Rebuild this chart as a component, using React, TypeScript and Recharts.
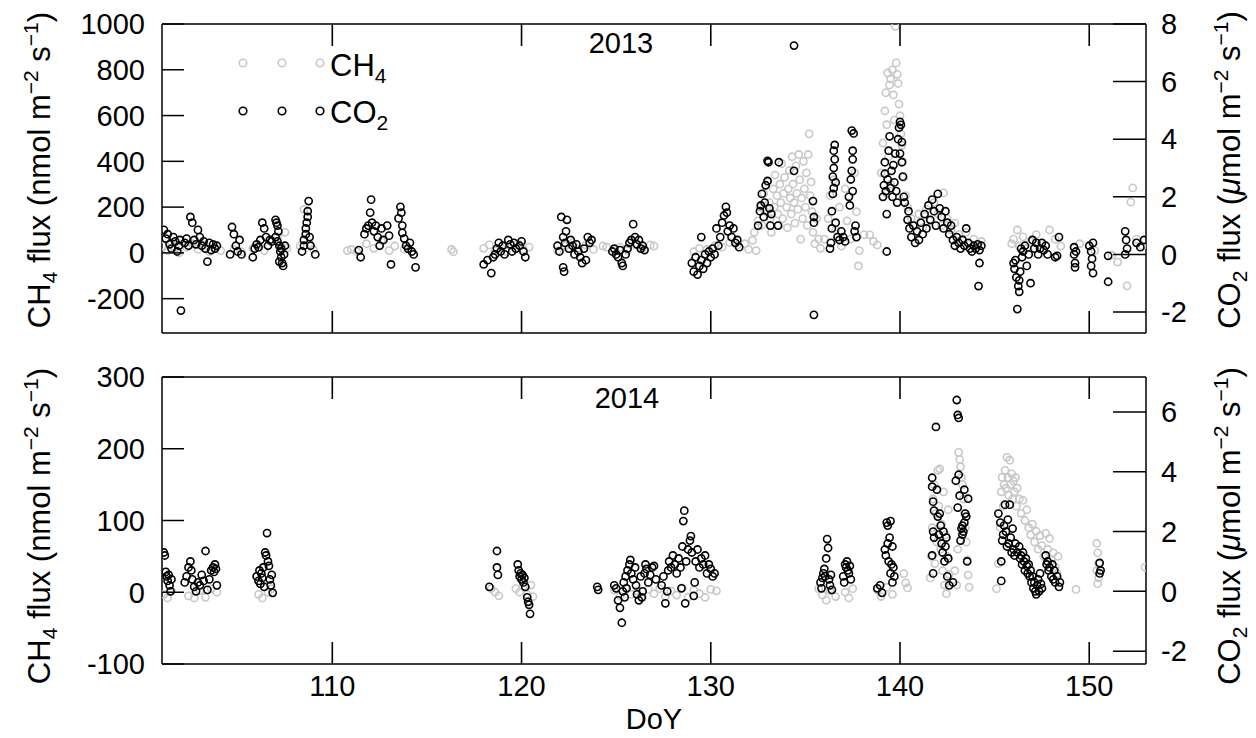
import React from 'react';
import { ScatterChart, Scatter, XAxis, YAxis, Legend } from 'recharts';

type Pt = [number, number];

const doyTicks = [110, 120, 130, 140, 150];
const ch4Ticks2013 = [-200, 0, 200, 400, 600, 800, 1000];
const co2Ticks2013 = [-2, 0, 2, 4, 6, 8];
const ch4Ticks2014 = [-100, 0, 100, 200, 300];
const co2Ticks2014 = [-2, 0, 2, 4, 6];

// [DoY, CH4 flux nmol m-2 s-1]
const ch4_2013: Pt[] = [
  [101.1, 30], [101.3, 10], [101.5, 45], [101.7, 20], [101.9, 0], [102.3, 25], [102.6, 40], [102.9, 15],
  [103.2, 35], [103.5, 5], [103.8, 20], [104.1, 10], [104.8, 15], [105.2, 5], [105.8, 20], [106.1, 35],
  [106.4, 10], [106.8, 50], [107.1, 70], [107.3, 30], [107.5, 90], [107.6, 20], [108.3, 30], [108.5, 190],
  [108.6, 80], [108.8, 40], [109.0, 15], [110.8, 10], [111.0, 15], [111.3, 5], [111.8, 40], [112.2, 20],
  [112.6, 55], [113.0, 10], [113.3, 30], [113.8, 15], [114.2, 5], [116.3, 15], [116.4, 5],
  [118.0, 20], [118.3, 35], [118.6, 10], [118.9, 25], [119.2, 5], [119.5, 30], [119.8, 40], [120.1, 15], [120.4, 25],
  [121.9, 10], [122.3, 30], [122.7, 45], [123.0, 20], [123.4, 35], [123.8, 15], [124.3, 30], [124.5, 25],
  [124.9, 15], [125.2, 25], [125.6, 10], [126.0, 35], [126.4, 20], [126.8, 35], [127.0, 30],
  [129.1, 5], [129.4, 20], [129.8, 15], [130.2, 30], [130.6, 25], [131.0, 45], [131.4, 35], [131.8, 40],
  [132.0, 15], [132.2, 55], [132.4, 10], [132.3, 90], [132.5, 140], [132.6, 200],
  [132.7, 120], [132.8, 260], [132.9, 180], [133.0, 310], [133.1, 220], [133.15, 150], [133.2, 90], [133.3, 280],
  [133.35, 200], [133.4, 340], [133.5, 250], [133.55, 170], [133.6, 120], [133.65, 300], [133.7, 220], [133.75, 390],
  [133.8, 150], [133.85, 260], [133.9, 330], [134.0, 200], [134.05, 110], [134.1, 280], [134.15, 360], [134.2, 240],
  [134.25, 170], [134.3, 420], [134.35, 300], [134.4, 220], [134.45, 130], [134.5, 380], [134.55, 260], [134.6, 190],
  [134.65, 430], [134.7, 320], [134.75, 60], [134.8, 240], [134.85, 150], [134.9, 400], [134.95, 280], [135.0, 200],
  [135.05, 350], [135.1, 120], [135.15, 430], [135.2, 520], [135.25, 250], [135.3, 310], [135.35, 180], [135.4, 90],
  [135.5, 40], [135.6, 150], [135.7, 60], [135.8, 20],
  [136.0, 60], [136.2, 150], [136.3, 250], [136.5, 320], [136.6, 100], [136.8, 200], [136.9, 30], [137.1, 280],
  [137.2, 140], [137.4, 60], [137.6, 350], [137.7, 180], [137.8, -57], [137.85, 10], [138.1, 80], [138.4, 79],
  [138.6, 50], [138.8, 35],
  [139.0, 350], [139.1, 480], [139.2, 620], [139.25, 700], [139.3, 560], [139.35, 786], [139.4, 420], [139.45, 734],
  [139.5, 760], [139.6, 800], [139.65, 690], [139.7, 580], [139.75, 990], [139.8, 830], [139.85, 780], [139.9, 740],
  [139.95, 650], [140.0, 600], [140.05, 520], [140.1, 470], [140.15, 400], [140.2, 330], [139.5, 300], [139.3, 260],
  [140.3, 250],
  [140.4, 200], [140.6, 150], [140.8, 120], [141.0, 170], [141.2, 110], [141.4, 190], [141.6, 140], [141.8, 220],
  [142.0, 170], [142.2, 120], [142.3, 262], [142.5, 150], [142.7, 100], [142.9, 130], [143.1, 80], [143.3, 60],
  [143.5, 90], [143.7, 40], [143.9, 60], [144.1, 30], [144.3, 50],
  [145.9, 40], [146.0, 60], [146.2, 100], [146.3, 30], [146.5, 70], [146.7, 20], [146.9, 50], [147.2, 80],
  [147.5, 40], [147.9, 100], [148.2, 60], [148.5, 30],
  [149.2, 20], [149.5, 40], [150.0, 30], [150.3, 10], [151.2, -10], [151.5, -40], [152.0, -144], [152.2, 222],
  [152.3, 284], [152.5, 60], [152.8, 30],
];

// [DoY, CO2 flux umol m-2 s-1]
const co2_2013: Pt[] = [
  [101.1, 0.85], [101.2, 0.55], [101.3, 0.7], [101.4, 0.35], [101.5, 0.2], [101.6, 0.6], [101.7, 0.45], [101.8, 0.1],
  [101.9, 0.3], [101.95, 0.5], [102.0, -1.95],
  [102.2, 0.4], [102.3, 0.55], [102.4, 0.3], [102.5, 1.3], [102.6, 1.1], [102.7, 0.5], [102.8, 0.35], [102.9, 0.85],
  [103.0, 0.6], [103.1, 0.3], [103.2, 0.45], [103.3, 0.2], [103.4, -0.25], [103.5, 0.4], [103.6, 0.15], [103.7, 0.35],
  [103.8, 0.2], [103.9, 0.3],
  [104.6, 0.0], [104.7, 0.95], [104.8, 0.7], [104.9, 0.3], [105.0, 0.1], [105.1, 0.5], [105.2, 0.0],
  [105.8, -0.1], [105.9, 0.2], [106.0, 0.35], [106.1, 0.25], [106.2, 0.5], [106.3, 1.1], [106.4, 0.9], [106.5, 0.6],
  [106.6, 0.3], [106.7, 0.5], [106.8, 0.45],
  [107.0, 1.2], [107.05, 1.1], [107.1, 1.0], [107.15, 0.8], [107.0, 0.6], [107.1, 0.45], [107.2, 0.3], [107.25, 0.1],
  [107.3, -0.1], [107.35, -0.3], [107.4, -0.4], [107.3, 0.2], [107.45, 0.0], [107.5, 0.3], [107.2, -0.25],
  [108.4, 0.1], [108.5, 0.3], [108.5, 0.5], [108.6, 0.7], [108.6, 0.9], [108.65, 1.1], [108.7, 1.3], [108.7, 1.5],
  [108.75, 1.85], [108.8, 0.6], [108.85, 0.3], [109.1, 0.0],
  [111.4, 0.15], [111.5, -0.1],
  [111.7, 0.7], [111.8, 0.9], [111.9, 1.0], [112.0, 1.45], [112.05, 1.9], [112.1, 1.1], [112.2, 0.8], [112.3, 1.0],
  [112.4, 0.6], [112.5, 0.3], [112.6, 0.9], [112.7, 0.5], [112.9, 1.0], [113.0, 0.65], [113.1, -0.35],
  [113.5, 1.25], [113.6, 1.65], [113.65, 1.45], [113.7, 1.0], [113.7, 0.75], [113.8, 0.55], [113.9, 0.3], [114.0, 0.2],
  [114.1, 0.4], [114.2, 0.1], [114.3, 0.0], [114.4, -0.45],
  [118.0, -0.35], [118.2, -0.2], [118.4, -0.65], [118.5, -0.1], [118.6, 0.0], [118.7, 0.2], [118.8, 0.4], [118.9, 0.1],
  [119.0, 0.3], [119.1, 0.0], [119.3, 0.5], [119.4, 0.35], [119.5, 0.1], [119.6, 0.4], [119.7, 0.2], [119.9, 0.3],
  [120.0, 0.45], [120.1, 0.1], [120.2, -0.1],
  [121.9, 0.3], [122.0, 0.1], [122.1, 1.3], [122.2, 0.6], [122.3, 0.4], [122.4, 1.2], [122.35, 0.8], [122.2, -0.45],
  [122.25, -0.6], [122.5, 0.2], [122.6, 0.5], [122.7, 0.3], [122.8, 0.0], [122.9, 0.35], [123.0, 0.1], [123.1, -0.1],
  [123.2, -0.3], [123.3, 0.2], [123.4, -0.2], [123.5, 0.6], [123.6, 0.4], [123.7, 0.5],
  [124.8, 0.1], [124.9, 0.2], [125.0, 0.0], [125.1, -0.1], [125.2, 0.15], [125.3, -0.3], [125.35, -0.4], [125.5, 0.0],
  [125.6, 0.2], [125.7, 0.4], [125.8, 0.5], [125.9, 1.05], [126.0, 0.6], [126.1, 0.35], [126.2, 0.5], [126.3, 0.2],
  [126.4, 0.3], [126.5, 0.15],
  [129.0, -0.3], [129.1, -0.6], [129.2, -0.1], [129.3, -0.7], [129.4, -0.4], [129.5, 0.6], [129.5, -0.2], [129.6, -0.5],
  [129.7, 0.0], [129.8, -0.3], [129.9, 0.1], [130.0, -0.1], [130.1, 0.2], [130.2, 0.0], [130.3, 0.9], [130.4, 0.3],
  [130.5, 0.6], [130.6, 1.1], [130.7, 1.35], [130.8, 1.65], [130.85, 1.45], [130.9, 0.8], [131.0, 1.0], [131.1, 0.6],
  [131.2, 0.9], [131.3, 0.4], [131.4, 0.5], [131.5, 0.25],
  [132.5, 1.0], [132.6, 1.5], [132.65, 1.7], [132.7, 2.1], [132.8, 1.3], [132.85, 1.8], [132.9, 2.4], [133.0, 2.55],
  [133.0, 3.25], [133.05, 3.2], [133.1, 1.6], [133.15, 1.0], [133.2, 1.4], [133.6, 3.2], [133.55, 1.0], [134.4, 2.9],
  [134.4, 7.25], [135.4, 1.85], [135.45, 1.3], [135.45, 1.1], [135.45, -2.1],
  [136.3, 0.2], [136.35, 0.4], [136.4, 0.9], [136.4, 1.5], [136.45, 2.1], [136.5, 2.3], [136.45, 2.7], [136.5, 3.0],
  [136.55, 3.3], [136.5, 3.6], [136.55, 3.8], [136.6, 2.5], [136.6, 1.1], [136.7, 0.6], [136.8, 0.5], [136.9, 0.8],
  [137.0, 0.6], [137.1, 0.45],
  [137.3, 2.0], [137.35, 1.7], [137.4, 2.6], [137.45, 2.9], [137.5, 3.3], [137.5, 3.6], [137.55, 4.2], [137.5, 2.2],
  [137.6, 0.8], [137.65, 1.0], [137.7, 0.6], [137.45, 4.3],
  [139.1, 2.0], [139.15, 2.4], [139.2, 2.8], [139.2, 3.2], [139.25, 2.2], [139.3, 1.4], [139.3, 0.1], [139.35, 2.6],
  [139.4, 3.6], [139.45, 4.1], [139.5, 2.3], [139.55, 2.9], [139.6, 2.0], [139.65, 3.1], [139.7, 2.5], [139.75, 3.5],
  [139.8, 2.2], [139.85, 1.8], [139.9, 4.0], [139.95, 4.4], [140.0, 4.6], [140.05, 4.5], [140.0, 3.5], [140.1, 3.2],
  [140.1, 3.9], [140.15, 2.7], [140.2, 2.0], [140.25, 1.8],
  [140.4, 1.2], [140.45, 1.5], [140.5, 0.9], [140.6, 0.6], [140.7, 1.0], [140.8, 0.4], [140.9, 0.8], [141.0, 0.5],
  [141.1, 1.1], [141.2, 0.7], [141.3, 1.4], [141.4, 0.9], [141.5, 1.7], [141.6, 1.2], [141.7, 1.9], [141.8, 1.5],
  [141.9, 1.0], [142.0, 2.1], [142.1, 1.6], [142.2, 1.3], [142.3, 0.9], [142.4, 1.5], [142.5, 1.1], [142.6, 0.7],
  [142.7, 1.0], [142.8, 0.5], [142.9, 0.3], [143.0, 0.6], [143.1, 0.4], [143.2, 0.2], [143.3, 0.5], [143.4, 0.3],
  [143.5, 0.9], [143.6, 0.4], [143.7, 0.2], [143.8, 0.1], [143.9, 0.3], [144.0, 0.2], [144.1, 0.35], [144.2, 0.15],
  [144.3, 0.3], [144.2, -0.3], [144.15, -1.1],
  [146.0, -0.3], [146.05, -0.5], [146.1, -0.2], [146.15, -0.8], [146.2, -1.9], [146.25, -1.1], [146.3, -1.3], [146.3, -0.9],
  [146.35, -0.6], [146.4, 0.2], [146.45, -0.1], [146.5, 0.1], [146.6, 0.3], [146.7, -0.4], [146.8, 0.0], [146.9, -1.0],
  [147.0, 0.5], [147.1, 0.2], [147.2, 0.4], [147.3, 0.0], [147.4, 0.2], [147.5, 0.4], [147.6, 0.15], [147.7, 0.3],
  [147.8, 0.0], [148.2, -0.1], [148.3, -0.05], [148.4, 0.6],
  [149.2, 0.25], [149.2, 0.0], [149.25, -0.3], [149.25, -0.45], [149.3, 0.1],
  [150.0, 0.3], [150.1, 0.1], [150.15, -0.15], [150.1, -0.4], [150.2, -0.65], [150.2, 0.4],
  [151.0, -0.05], [151.0, -0.95], [151.9, 0.8], [151.95, 0.5], [151.9, 0.0], [152.0, 0.2], [152.5, 0.4], [152.7, 0.25],
  [152.9, 0.5],
];

const ch4_2014: Pt[] = [
  [101.1, -3], [101.3, -8], [101.5, 2], [102.4, -5], [102.7, -8], [103.0, 2], [103.3, -7], [103.6, 5], [103.9, 0],
  [106.1, -3], [106.3, -8], [106.6, 0], [106.8, 5],
  [118.4, 5], [118.6, 0], [118.8, -5], [119.7, 5], [119.9, 0], [120.1, 8], [120.3, -3], [120.5, 10], [120.6, -6],
  [124.9, 3], [125.2, -5], [125.5, 6], [125.8, -3], [126.1, 2], [126.4, -7], [126.7, 4], [127.0, -2], [127.3, 5],
  [127.6, -6], [127.9, 2], [128.2, -4], [128.5, 6], [128.8, -7], [129.1, 3], [129.4, -2], [129.7, -7], [130.0, 4],
  [130.3, 2],
  [135.7, 5], [135.9, -4], [136.1, -11], [136.3, 2], [136.6, -6], [137.1, 0], [137.3, -8], [137.5, 5], [138.8, 3],
  [139.0, -6], [139.3, 7], [139.6, -3], [140.2, 26], [140.3, 13], [140.4, 6],
  [141.6, 20], [141.65, 50], [141.7, 90], [141.75, 130], [141.8, 150], [141.85, 40], [141.9, 110], [141.95, 70],
  [142.0, 170], [142.05, 120], [142.1, 172], [142.15, 60], [142.2, 95], [142.25, 30], [142.3, 140], [142.35, 10],
  [142.4, 80], [142.45, -2], [142.5, 50], [142.55, 115], [142.6, 25],
  [142.9, 30], [143.0, 10], [143.05, 60], [143.1, 195], [143.15, 185], [143.2, 175], [143.25, 160], [143.3, 150],
  [143.35, 130], [143.4, 110], [143.45, 90], [143.5, 70], [143.55, 45], [143.6, 24], [143.65, 7],
  [145.1, 5], [145.2, 40], [145.3, 90], [145.35, 140], [145.4, 160], [145.45, 120], [145.5, 150], [145.55, 170],
  [145.6, 145], [145.65, 188], [145.7, 160], [145.75, 135], [145.8, 184], [145.85, 150], [145.9, 165], [145.95, 130],
  [146.0, 155], [146.05, 140], [146.1, 160], [146.15, 120], [146.2, 145], [146.3, 130], [146.4, 110], [146.5, 128],
  [146.6, 100], [146.7, 115], [146.8, 90], [146.9, 80], [147.0, 95], [147.1, 70], [147.2, 85], [147.3, 60],
  [147.4, 79], [147.5, 65], [147.6, 50], [147.7, 82], [147.8, 60], [147.9, 75], [148.0, 45], [148.1, 55],
  [148.2, 35], [148.3, 26], [148.35, 50],
  [149.3, 4], [150.4, 68], [150.45, 55], [150.5, 40], [150.4, 30], [150.5, 20], [150.45, 12], [152.95, 35],
];

const co2_2014: Pt[] = [
  [101.1, 1.3], [101.15, 1.2], [101.2, 0.65], [101.25, 0.5], [101.3, 0.35], [101.35, 0.55], [101.4, 0.2], [101.45, 0.0],
  [101.5, 0.4],
  [102.2, 0.3], [102.3, 0.5], [102.4, 0.8], [102.5, 1.0], [102.55, 0.7], [102.6, 0.4], [102.7, 0.15], [102.8, 0.0],
  [102.9, 0.3], [103.0, 0.2], [103.1, 0.55], [103.2, 0.35], [103.3, 1.35], [103.4, 0.05], [103.5, 0.4], [103.6, 0.7],
  [103.7, 0.8], [103.75, 0.65], [103.8, 0.9], [103.85, 0.75], [103.9, 0.2],
  [106.0, 0.5], [106.1, 0.35], [106.15, 0.7], [106.2, 0.25], [106.25, 0.6], [106.3, 0.45], [106.35, 0.8], [106.4, 0.15],
  [106.45, 1.3], [106.5, 1.2], [106.55, 1.95], [106.6, 1.0], [106.65, 0.85], [106.7, 0.4], [106.75, 0.2], [106.8, 0.55],
  [106.85, -0.05],
  [118.3, 0.15], [118.7, 1.35], [118.7, 0.8], [118.75, 0.55],
  [119.8, 0.9], [119.85, 0.7], [119.9, 0.5], [119.95, 0.6], [120.0, 0.4], [120.05, 0.55], [120.1, 0.3], [120.15, 0.45],
  [120.2, 0.15], [120.3, -0.2], [120.35, -0.35], [120.4, -0.45], [120.45, -0.75],
  [124.0, 0.15], [124.05, 0.05],
  [124.9, 0.2], [125.0, 0.1], [125.1, -0.3], [125.2, -0.55], [125.3, -1.05], [125.35, 0.0], [125.4, 0.3], [125.45, -0.2],
  [125.5, 0.5], [125.55, 0.1], [125.6, 0.7], [125.7, 0.9], [125.75, 1.05], [125.8, 0.6], [125.9, 0.4], [126.0, 0.8],
  [126.05, 0.2], [126.1, -0.1], [126.2, -0.3], [126.3, 0.5], [126.35, -0.2], [126.4, 0.0], [126.5, 0.6], [126.55, 0.9],
  [126.6, 0.75], [126.7, 0.3], [126.8, 0.55], [126.9, 0.8], [127.0, 0.85], [127.1, 0.4],
  [127.4, 0.2], [127.5, 0.5], [127.6, -0.4], [127.7, 0.0], [127.75, 0.7], [127.8, 1.0], [127.9, 0.8], [128.0, 1.2],
  [128.1, 0.9], [128.2, 0.6], [128.3, 1.1], [128.4, 0.8], [128.45, 0.1], [128.5, 1.5], [128.55, 2.35], [128.6, 2.7],
  [128.65, -0.4], [128.7, 1.0], [128.8, 1.4], [128.9, 1.7], [128.95, 1.85], [129.0, 1.3], [129.1, -0.15], [129.15, 0.3],
  [129.2, 1.0], [129.3, 1.4], [129.4, 0.8], [129.5, 1.1], [129.6, 0.9], [129.7, 1.2], [129.8, 0.6], [129.9, 0.9],
  [130.0, 0.75], [130.1, 0.5], [130.2, 0.6],
  [135.8, 0.3], [135.85, 0.1], [135.9, 0.45], [135.95, 0.6], [136.0, 0.75], [136.05, 0.5], [136.1, 1.1], [136.15, 1.75],
  [136.2, 1.45], [136.25, 0.4], [136.3, 0.2], [136.35, 0.55], [136.4, 0.05],
  [137.0, 0.5], [137.05, 0.3], [137.1, 0.9], [137.15, 0.8], [137.2, 1.0], [137.25, 0.7], [137.3, 0.6], [137.35, 0.85],
  [137.4, 0.4],
  [138.8, 0.1], [138.95, 0.2], [139.05, -0.05], [139.2, 1.4], [139.25, 1.2], [139.3, 2.3], [139.35, 2.2], [139.35, 1.6],
  [139.4, 1.0], [139.45, 1.8], [139.5, 2.35], [139.5, 0.6], [139.55, 0.9], [139.6, 0.3], [139.6, 1.5], [139.65, 0.8],
  [139.7, 0.5],
  [141.7, 3.8], [141.7, 3.5], [141.75, 3.0], [141.8, 2.7], [141.75, 2.0], [141.8, 1.8], [141.7, 1.2], [141.75, 0.6],
  [141.9, 5.5], [141.95, 3.4], [142.0, 2.5], [142.05, 1.9], [142.1, 2.6], [142.15, 2.2], [142.2, 1.6], [142.25, 1.3],
  [142.3, 2.0], [142.35, 1.0], [142.4, 1.5], [142.45, 1.8], [142.5, 0.5], [142.55, 1.1], [142.6, 0.2],
  [142.8, 0.3], [142.95, 3.7], [143.0, 6.4], [143.05, 5.9], [143.1, 5.8], [143.1, 3.9], [143.15, 3.2], [143.05, 2.8],
  [143.2, 1.7], [143.25, 2.1], [143.3, 2.2], [143.3, 1.9], [143.35, 2.0], [143.4, 3.4], [143.4, 2.3], [143.45, 2.6],
  [143.5, 2.5], [143.55, 1.0], [143.6, 3.1],
  [145.2, 2.6], [145.3, 2.3], [145.35, 1.0], [145.35, 0.35], [145.4, 1.7], [145.45, 1.9], [145.5, 2.2], [145.55, 2.9],
  [145.6, 2.0], [145.65, 1.5], [145.7, 2.4], [145.75, 1.6], [145.8, 2.9], [145.85, 1.8], [145.9, 1.3], [145.95, 2.1],
  [146.0, 1.4], [146.05, 1.2], [146.1, 1.6],
  [146.2, 1.3], [146.3, 1.5], [146.35, 1.1], [146.4, 1.2], [146.45, 0.9], [146.5, 1.3], [146.55, 1.0], [146.6, 0.7],
  [146.65, 1.1], [146.7, 0.85], [146.75, 0.6], [146.8, 0.9], [146.85, 0.5], [146.9, 0.7], [146.95, 0.3], [147.0, 0.5],
  [147.05, 0.1], [147.1, 0.3], [147.15, 0.0], [147.2, -0.1], [147.25, 0.2], [147.3, 0.4], [147.35, 0.0], [147.4, 0.6],
  [147.45, 0.25], [147.5, 0.1],
  [147.7, 1.2], [147.75, 0.9], [147.8, 1.0], [147.85, 0.7], [147.9, 0.8], [148.0, 0.5], [148.05, 0.9], [148.1, 0.4],
  [148.15, 0.7], [148.2, 0.3], [148.3, 0.5], [148.4, 0.15], [148.45, 0.3],
  [150.55, 0.95], [150.6, 0.7], [150.55, 0.6],
];

const INK = '#000';
const GRAY = '#c8c8c8';
const FONT = '"Liberation Sans", Arial, Helvetica, sans-serif';
const TICK_FS = 29;
const TITLE_FS = 31;
const SUB_FS = 21;

const toRows = (pts: Pt[]) => pts.map(([doy, flux]) => ({ doy, flux }));

const ring = (color: string) => (p: any) => (
  <circle cx={p.cx} cy={p.cy} r={3.6} fill="none" stroke={color} strokeWidth={1.6} />
);

// ticks point into the plot, like R's tck > 0
const leftTick = (p: any) => (
  <g>
    <line x1={p.x + 17} x2={p.x + 39} y1={p.y} y2={p.y} stroke={INK} strokeWidth={1.5} />
    <text x={p.x} y={p.y} dy="0.355em" textAnchor="end" fontSize={TICK_FS} fill={INK}>{p.payload.value}</text>
  </g>
);

const rightTick = (p: any) => (
  <g>
    <line x1={p.x - 15} x2={p.x - 48} y1={p.y} y2={p.y} stroke={INK} strokeWidth={1.5} />
    <text x={p.x} y={p.y} dy="0.355em" textAnchor="start" fontSize={TICK_FS} fill={INK}>{p.payload.value}</text>
  </g>
);

// the bottom axis draws the inward ticks on both the bottom and the top edge of the frame
const doyTick = (showLabel: boolean, plotTop: number, plotBottom: number) => (p: any) => (
  <g>
    <line x1={p.x} x2={p.x} y1={plotBottom} y2={plotBottom - 22} stroke={INK} strokeWidth={1.6} />
    <line x1={p.x} x2={p.x} y1={plotTop} y2={plotTop + 22} stroke={INK} strokeWidth={1.6} />
    {showLabel && (
      <text x={p.x} y={plotBottom + 11} dy="0.71em" textAnchor="middle" fontSize={TICK_FS} fill={INK}>{p.payload.value}</text>
    )}
  </g>
);

function Ch4Title({ x, cy }: { x: number; cy: number }) {
  return (
    <text x={x} y={cy} transform={`rotate(-90 ${x} ${cy})`} textAnchor="middle" fontSize={TITLE_FS} fill={INK}>
      CH<tspan dy={7} fontSize={SUB_FS}>4</tspan>
      <tspan dy={-7}>{' flux (nmol m'}</tspan>
      <tspan dy={-12} fontSize={SUB_FS}>{'\u22122'}</tspan>
      <tspan dy={12}>{' s'}</tspan>
      <tspan dy={-12} fontSize={SUB_FS}>{'\u22121'}</tspan>
      <tspan dy={12}>)</tspan>
    </text>
  );
}

function Co2Title({ x, cy }: { x: number; cy: number }) {
  return (
    <text x={x} y={cy} transform={`rotate(-90 ${x} ${cy})`} textAnchor="middle" fontSize={TITLE_FS} fill={INK}>
      CO<tspan dy={7} fontSize={SUB_FS}>2</tspan>
      <tspan dy={-7}>{' flux ('}</tspan>
      <tspan fontStyle="italic">{'\u03bc'}</tspan>
      <tspan>{'mol m'}</tspan>
      <tspan dy={-12} fontSize={SUB_FS}>{'\u22122'}</tspan>
      <tspan dy={12}>{' s'}</tspan>
      <tspan dy={-12} fontSize={SUB_FS}>{'\u22121'}</tspan>
      <tspan dy={12}>)</tspan>
    </text>
  );
}

function GasLegend() {
  const xs = [13, 52, 90];
  return (
    <svg width={200} height={100} style={{ overflow: 'visible', fontFamily: FONT, display: 'block' }}>
      {xs.map((x) => (
        <circle key={`g${x}`} cx={x} cy={23} r={3.8} fill="none" stroke={GRAY} strokeWidth={1.6} />
      ))}
      {xs.map((x) => (
        <circle key={`k${x}`} cx={x} cy={71} r={3.8} fill="none" stroke={INK} strokeWidth={1.6} />
      ))}
      <text x={100} y={36} fontSize={TITLE_FS} fill={INK}>
        CH<tspan dy={7} fontSize={SUB_FS}>4</tspan>
      </text>
      <text x={100} y={83} fontSize={TITLE_FS} fill={INK}>
        CO<tspan dy={7} fontSize={SUB_FS}>2</tspan>
      </text>
    </svg>
  );
}

type PanelProps = {
  year: string;
  yearX: number;
  yearY: number;
  ch4: Pt[];
  co2: Pt[];
  ch4Domain: [number, number];
  co2Domain: [number, number];
  ch4Ticks: number[];
  co2Ticks: number[];
  height: number;
  topH: number;
  bottomH: number;
  xLabels: boolean;
  titleCy: number;
  legend?: boolean;
};

function Panel(props: PanelProps) {
  const axisLine = { stroke: INK, strokeWidth: 1.5 };
  const plotBottom = props.height - props.bottomH;
  return (
    <ScatterChart width={1256} height={props.height} margin={{ top: 0, right: 0, bottom: 0, left: 0 }}>
      <XAxis
        xAxisId="b"
        dataKey="doy"
        type="number"
        domain={[101, 153]}
        ticks={doyTicks}
        interval={0}
        allowDataOverflow
        height={props.bottomH}
        axisLine={axisLine}
        tickLine={false}
        tickSize={0}
        tickMargin={11}
        tick={doyTick(props.xLabels, props.topH, plotBottom)}
        label={
          props.xLabels
            ? {
                content: (lp: any) => (
                  <text x={lp.viewBox.x + lp.viewBox.width / 2} y={plotBottom + 65} textAnchor="middle" fontSize={TICK_FS} fill={INK}>
                    DoY
                  </text>
                ),
              }
            : undefined
        }
      />
      <XAxis
        xAxisId="t"
        orientation="top"
        dataKey="doy"
        type="number"
        domain={[101, 153]}
        allowDataOverflow
        height={props.topH}
        axisLine={axisLine}
        tickLine={false}
        tick={false}
        label={{
          content: (lp: any) => (
            <text x={lp.viewBox.x + props.yearX} y={props.topH + props.yearY} textAnchor="middle" fontSize={TICK_FS} fill={INK}>
              {props.year}
            </text>
          ),
        }}
      />
      <YAxis
        yAxisId="ch4"
        dataKey="flux"
        type="number"
        domain={props.ch4Domain}
        ticks={props.ch4Ticks}
        interval={0}
        allowDataOverflow
        width={162}
        axisLine={axisLine}
        tickLine={false}
        tickSize={0}
        tickMargin={17}
        tick={leftTick}
        label={{ content: () => <Ch4Title x={50} cy={props.titleCy} /> }}
      />
      <YAxis
        yAxisId="co2"
        orientation="right"
        dataKey="flux"
        type="number"
        domain={props.co2Domain}
        ticks={props.co2Ticks}
        interval={0}
        allowDataOverflow
        width={110}
        axisLine={axisLine}
        tickLine={false}
        tickSize={0}
        tickMargin={15}
        tick={rightTick}
        label={{ content: () => <Co2Title x={1240} cy={props.titleCy} /> }}
      />
      <Scatter
        name="CH4"
        data={toRows(props.ch4)}
        xAxisId="b"
        yAxisId="ch4"
        shape={ring(GRAY)}
        isAnimationActive={false}
      />
      <Scatter
        name="CO2"
        data={toRows(props.co2)}
        xAxisId="b"
        yAxisId="co2"
        shape={ring(INK)}
        isAnimationActive={false}
      />
      {props.legend && (
        <Legend
          layout="horizontal"
          verticalAlign="middle"
          align="center"
          content={() => <GasLegend />}
          wrapperStyle={{ position: 'absolute', left: 230, top: 40, width: 200, height: 100 }}
        />
      )}
    </ScatterChart>
  );
}

export default function App() {
  return (
    <div style={{ position: 'absolute', left: 0, top: 0, width: 1256, height: 738, background: '#fff', fontFamily: FONT }}>
      <div style={{ position: 'absolute', left: 0, top: 0 }}>
        <Panel
          year="2013"
          yearX={459}
          yearY={29}
          ch4={ch4_2013}
          co2={co2_2013}
          ch4Domain={[-350, 1000]}
          co2Domain={[-2.73, 8]}
          ch4Ticks={ch4Ticks2013}
          co2Ticks={co2Ticks2013}
          height={350}
          topH={24}
          bottomH={17}
          xLabels={false}
          titleCy={170}
          legend
        />
      </div>
      <div style={{ position: 'absolute', left: 0, top: 350 }}>
        <Panel
          year="2014"
          yearX={465}
          yearY={31}
          ch4={ch4_2014}
          co2={co2_2014}
          ch4Domain={[-100, 300]}
          co2Domain={[-2.43, 7.17]}
          ch4Ticks={ch4Ticks2014}
          co2Ticks={co2Ticks2014}
          height={388}
          topH={27}
          bottomH={74}
          xLabels
          titleCy={176}
        />
      </div>
    </div>
  );
}
